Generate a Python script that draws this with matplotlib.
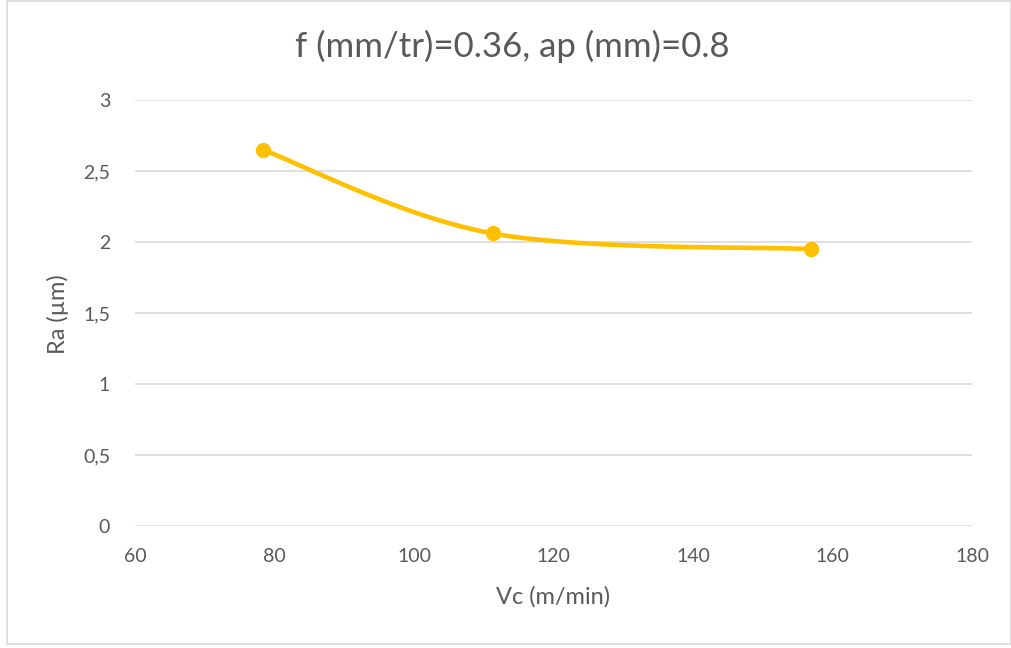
import numpy as np
import matplotlib
matplotlib.use("Agg")
import matplotlib.pyplot as plt
from matplotlib.patches import Rectangle

# Cutting speed vs. surface roughness
vc = [78.3, 111.3, 156.9]
ra = [2.65, 2.06, 1.95]
x_ticks = [60, 80, 100, 120, 140, 160, 180]
y_ticks = [0, 0.5, 1, 1.5, 2, 2.5, 3]
y_tick_labels = ["0", "0,5", "1", "1,5", "2", "2,5", "3"]
title = "f (mm/tr)=0.36, ap (mm)=0.8"
x_label = "Vc (m/min)"
y_label = "Ra (µm)"

plt.rcParams["font.family"] = ["Lato", "DejaVu Sans"]

TEXT = "#595959"
GRID = "#d9d9d9"
LINE = "#FFC000"


def smooth_curve(xs, ys, n=60):
    """Cubic Bezier smoothing through the points (Catmull-Rom style tangents)."""
    pts = np.column_stack([xs, ys]).astype(float)
    ext = np.vstack([pts[0], pts, pts[-1]])
    t = np.linspace(0, 1, n)[:, None]
    out = []
    for i in range(len(pts) - 1):
        p0, p1, p2, p3 = ext[i], ext[i + 1], ext[i + 2], ext[i + 3]
        c1 = p1 + (p2 - p0) / 6.0
        c2 = p2 - (p3 - p1) / 6.0
        seg = ((1 - t) ** 3) * p1 + 3 * ((1 - t) ** 2) * t * c1 + 3 * (1 - t) * t ** 2 * c2 + t ** 3 * p2
        out.append(seg if i == 0 else seg[1:])
    curve = np.vstack(out)
    return curve[:, 0], curve[:, 1]


fig = plt.figure(figsize=(10.11, 6.48), dpi=100)
fig.patch.set_facecolor("white")
fig.patches.append(Rectangle((7 / 1011, 4 / 648), 1 - 7 / 1011, 1 - 5 / 648,
                             transform=fig.transFigure, fill=False,
                             edgecolor="#d9d9d9", linewidth=1.2))

ax = fig.add_axes([135 / 1011, 1 - 526 / 648, (972 - 135) / 1011, (526 - 100) / 648])
ax.set_xlim(60, 180)
ax.set_ylim(0, 3)
ax.set_xticks(x_ticks)
ax.set_yticks(y_ticks)
ax.set_yticklabels(y_tick_labels)
ax.tick_params(length=0, colors=TEXT, labelsize=14)
ax.tick_params(axis="x", pad=16)
ax.tick_params(axis="y", pad=18)
for s in ax.spines.values():
    s.set_visible(False)
ax.grid(axis="y", color=GRID, linewidth=1.2)
ax.set_axisbelow(True)

sx, sy = smooth_curve(vc, ra)
ax.plot(sx, sy, color=LINE, linewidth=3.3, solid_capstyle="round", zorder=3)
ax.plot(vc, ra, "o", color=LINE, markersize=10, zorder=4)

fig.text(512 / 1011, 1 - 46 / 648, title, ha="center", va="center",
         fontsize=25, color=TEXT)
fig.text(553 / 1011, 1 - 597 / 648, x_label, ha="center", va="center",
         fontsize=17, color=TEXT)
fig.text(58 / 1011, 1 - 314 / 648, y_label, ha="center", va="center",
         fontsize=17, color=TEXT, rotation=90)

fig.savefig("out.png", dpi=100, facecolor="white")
